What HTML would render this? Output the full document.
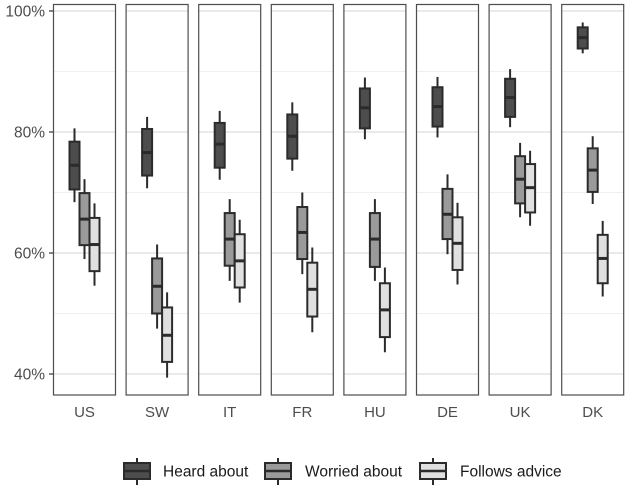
<!DOCTYPE html>
<html><head><meta charset="utf-8"><style>
html,body{margin:0;padding:0;background:#fff}
svg{display:block;font-family:"Liberation Sans",Arial,sans-serif}
</style></head><body>
<svg id="chart" width="629" height="490" viewBox="0 0 629 490"></svg>
<script>
const countries = ["US","SW","IT","FR","HU","DE","UK","DK"];
const seriesNames = ["Heard about","Worried about","Follows advice"];
const seriesColors = ["#4d4d4d","#9a9a9a","#e0e0e0"];
// [whiskerHigh, q3, median, q1, whiskerLow] per country
const heardAbout = [[80.6,78.4,74.5,70.5,68.4],[82.5,80.5,76.6,72.8,70.7],[83.5,81.5,78.0,74.1,72.1],[84.9,82.9,79.3,75.6,73.6],[89.0,87.2,84.0,80.6,78.8],[89.1,87.4,84.2,80.9,79.1],[90.4,88.8,85.7,82.5,80.8],[98.1,97.3,95.6,93.8,93.0]];
const worriedAbout = [[72.2,69.9,65.6,61.3,59.0],[61.4,59.1,54.5,50.0,47.5],[68.9,66.6,62.3,57.9,55.4],[70.0,67.6,63.4,59.0,56.5],[68.9,66.6,62.3,57.7,55.4],[73.0,70.6,66.4,62.3,59.8],[78.2,76.0,72.2,68.2,65.9],[79.3,77.3,73.7,70.1,68.1]];
const followsAdvice = [[68.2,65.8,61.4,57.0,54.6],[53.5,51.0,46.4,42.0,39.4],[65.5,63.1,58.7,54.3,51.8],[60.9,58.4,54.0,49.5,46.9],[57.6,55.0,50.6,46.1,43.6],[68.3,65.9,61.6,57.2,54.8],[76.9,74.7,70.8,66.7,64.5],[65.3,63.0,59.1,55.0,52.8]];
const yTicks = [40,60,80,100];
const yMinor = [50,70,90];

const svg = document.getElementById('chart');
const NS = "http://www.w3.org/2000/svg";
function mk(tag, attrs, parent){const e=document.createElementNS(NS,tag);for(const k in attrs)e.setAttribute(k,attrs[k]);(parent||svg).appendChild(e);return e;}
const panelTop=4.5, panelBottom=395, panelW=62, panelStep=72.6, panelX0=53.5;
const y = v => 11 + (100 - v) * 6.05;
const panelLeft = i => panelX0 + i*panelStep;
const allSeries = [heardAbout, worriedAbout, followsAdvice];

countries.forEach((c,i)=>{
  const g = mk('g',{});
  
  
  const L = panelLeft(i);
  mk('rect',{x:L,y:panelTop,width:panelW,height:panelBottom-panelTop,fill:'#fff'},g);
  yMinor.forEach(t=>mk('line',{x1:L,x2:L+panelW,y1:y(t),y2:y(t),stroke:'#f0f0f0','stroke-width':1},g));
  yTicks.forEach(t=>mk('line',{x1:L,x2:L+panelW,y1:y(t),y2:y(t),stroke:'#e3e3e3','stroke-width':1.6},g));
  const cx = L + panelW/2;
  allSeries.forEach((s,j)=>{
    const d = s[i];
    const bx = cx + (j-1)*10;
    const bg = mk('g',{},g);
    
    
    mk('line',{x1:bx,x2:bx,y1:y(d[0]),y2:y(d[4]),stroke:'#2b2b2b','stroke-width':2},bg);
    mk('rect',{x:bx-5,y:y(d[1]),width:10,height:y(d[3])-y(d[1]),fill:seriesColors[j],stroke:'#2b2b2b','stroke-width':2},bg);
    mk('line',{x1:bx-5,x2:bx+5,y1:y(d[2]),y2:y(d[2]),stroke:'#2b2b2b','stroke-width':3},bg);
  });
  mk('rect',{x:L,y:panelTop,width:panelW,height:panelBottom-panelTop,fill:'none',stroke:'#4d4d4d','stroke-width':1.2},g);
  const t = mk('text',{x:cx,y:417,'text-anchor':'middle','font-size':15,fill:'#4d4d4d'},svg);
  t.textContent=c;
  
  
});

yTicks.forEach(t=>{
  mk('line',{x1:49,x2:53,y1:y(t),y2:y(t),stroke:'#333','stroke-width':1.2});
  const tx = mk('text',{x:45,y:y(t)+5.5,'text-anchor':'end','font-size':15.5,fill:'#4d4d4d'});
  tx.textContent=t+'%';
  
  
});

const legendX=[124,265,420], legendTextX=[163,305,460];
seriesNames.forEach((n,j)=>{
  const lg = mk('g',{});
  
  
  const x=legendX[j];
  mk('line',{x1:x+13,x2:x+13,y1:458,y2:485,stroke:'#2b2b2b','stroke-width':2},lg);
  mk('rect',{x:x,y:463,width:26,height:16,fill:seriesColors[j],stroke:'#2b2b2b','stroke-width':2},lg);
  mk('line',{x1:x,x2:x+26,y1:471,y2:471,stroke:'#2b2b2b','stroke-width':2.5},lg);
  const tx = mk('text',{x:legendTextX[j],y:476.5,'font-size':15.5,fill:'#1a1a1a'},lg);
  tx.textContent=n;
});
</script>
</body></html>
